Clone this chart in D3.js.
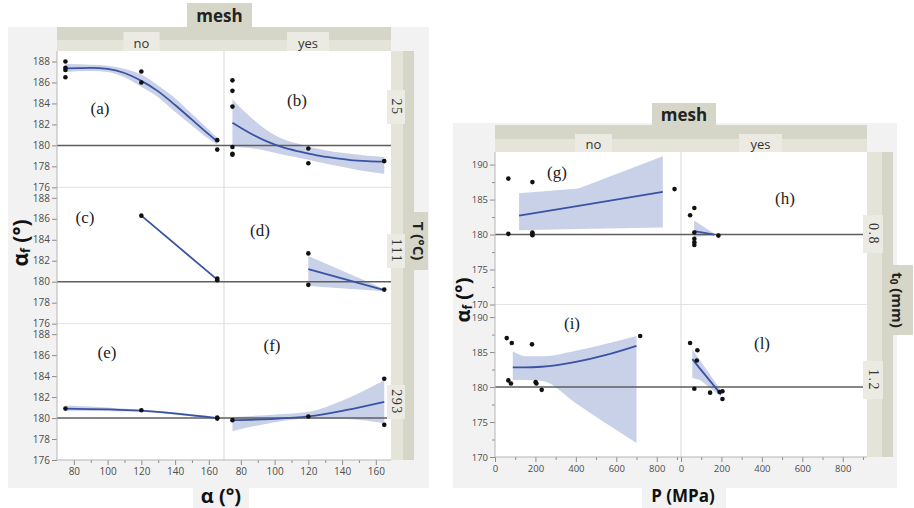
<!DOCTYPE html>
<html>
<head>
<meta charset="utf-8">
<script src="https://cdn.jsdelivr.net/npm/d3@7"></script>
<style>
  body { margin: 0; background: #fff; }
  svg { display: block; }
</style>
</head>
<body>
<div id="chart"></div>
<script>
// ---- categories and tick values ----
var MESH = ["no", "yes"];
var T_LEVELS = ["25", "111", "293"];
var T0_LEVELS = ["0.8", "1.2"];
var ALPHA_TICKS = [80, 100, 120, 140, 160];
var ALPHA_MINOR = [90, 110, 130, 150];
var AF_TICKS_L = [176, 178, 180, 182, 184, 186, 188];
var P_TICKS = [0, 200, 400, 600, 800];
var P_MINOR = [100, 300, 500, 700, 900];
var AF_TICKS_R = [170, 175, 180, 185, 190];
var AF_MINOR_R = [172.5, 177.5, 182.5, 187.5];
var TAGS_L = [["(a)", "(b)"], ["(c)", "(d)"], ["(e)", "(f)"]];
var TAGS_R = [["(g)", "(h)"], ["(i)", "(l)"]];

// ---- measured points: [x, alpha_f] ----
var PTS_A = [[75, 188.0], [75, 187.4], [75, 187.2], [75, 186.5], [120, 187.05], [120, 186.0], [165, 180.5], [165, 179.6]];
var PTS_B = [[75, 186.2], [75, 185.2], [75, 183.7], [75, 179.85], [75, 179.2], [75, 179.1], [120, 179.7], [120, 178.3], [165, 178.5]];
var PTS_C = [[120, 186.3], [165, 180.3], [165, 180.15]];
var PTS_D = [[120, 182.7], [120, 179.7], [165, 179.25]];
var PTS_E = [[75, 180.9], [120, 180.75], [165, 180.05], [165, 179.95]];
var PTS_F = [[75, 179.8], [120, 180.15], [165, 183.75], [165, 179.35]];
var PTS_G = [[66, 188.0], [66, 180.1], [185, 187.5], [185, 180.3], [185, 180.1], [185, 179.9], [888, 186.5]];
var PTS_H = [[45, 182.75], [66, 183.8], [66, 180.3], [66, 179.4], [66, 178.9], [66, 178.5], [185, 179.85]];
var PTS_I = [[58, 187.0], [66, 180.95], [83, 186.3], [79, 180.5], [183, 186.1], [201, 180.7], [205, 180.5], [231, 179.6], [718, 187.3]];
var PTS_L = [[45, 186.3], [81, 185.25], [78, 183.8], [66, 179.75], [144, 179.2], [191, 179.3], [205, 179.4], [205, 178.3]];

// ---- fitted curve with confidence band: [x, fit, lower, upper] ----
var FIT_A = [[75, 187.35, 187.0, 187.75], [90, 187.4, 187.1, 187.7], [100, 187.3, 187.0, 187.6], [110, 186.9, 186.5, 187.3],
             [120, 186.15, 185.6, 186.75], [130, 185.15, 184.6, 185.7], [140, 183.85, 183.2, 184.5], [150, 182.45, 181.9, 183.0],
             [160, 181.05, 180.6, 181.5], [165, 180.4, 180.05, 180.75]];
var FIT_B = [[75, 182.15, 179.9, 184.4], [85, 181.2, 179.75, 182.8], [95, 180.4, 179.5, 181.5], [105, 179.8, 179.1, 180.6],
             [115, 179.4, 178.8, 180.1], [125, 179.05, 178.45, 179.7], [135, 178.8, 178.1, 179.4], [145, 178.6, 177.8, 179.2],
             [155, 178.5, 177.5, 179.0], [165, 178.45, 177.3, 178.9]];
var FIT_C = [[120, 186.3, null, null], [165, 180.2, null, null]];
var FIT_D = [[120, 181.2, 179.6, 182.45], [165, 179.2, 179.1, 179.3]];
var FIT_E = [[75, 180.9, 180.7, 181.2], [120, 180.7, 180.6, 180.8], [142, 180.4, 180.3, 180.5], [165, 180.0, 179.9, 180.1]];
var FIT_F = [[75, 179.8, 178.75, 180.1], [97, 179.9, 179.5, 180.3], [120, 180.15, 179.95, 180.6], [142, 180.75, 179.9, 181.8], [165, 181.55, 179.5, 183.6]];
var FIT_G = [[119, 182.7, 180.6, 185.9], [413, 184.1, 180.8, 186.6], [830, 186.1, 181.0, 191.2]];
var FIT_H = [[65, 180.5, 179.7, 182.0], [165, 180.0, 179.85, 180.1]];
var FIT_I = [[88, 182.8, 181.0, 185.1], [150, 182.8, 181.0, 184.4], [230, 182.9, 180.9, 184.4], [400, 183.6, 177.7, 185.2],
             [550, 184.6, 174.8, 186.2], [700, 185.9, 172.0, 187.3]];
var FIT_L = [[56, 184.0, 181.3, 185.4], [95, 182.6, 181.0, 183.8], [198, 178.95, 178.6, 179.5]];

// ---- style ----
var BG = "#f2f2f2", DARK = "#d6d6c8", LIGHT = "#e4e4d9", BOX = "#ebebe3",
    LINE = "#3a52a4", FILL = "#c3cce6", REF = "#5e5e5e", GRID = "#e3e3e3",
    TICK = "#8c8c8c", TXT = "#4d4d4d", SANS = "'Open Sans', 'Noto Sans', sans-serif",
    SERIF = "'Liberation Serif', 'DejaVu Serif', serif";

var svg = d3.select("#chart").append("svg").attr("width", 914).attr("height", 508);

function rect(g, x, y, w, h, fill) {
  return g.append("rect").attr("x", x).attr("y", y).attr("width", w).attr("height", h).attr("fill", fill);
}

function facet(c) {
  var g = svg.append("g");
  rect(g, c.bg[0], c.bg[1], c.bg[2], c.bg[3], BG);
  var nc = c.cols.length, nr = c.rows.length;
  var pw = (c.x1 - c.x0) / nc, rh = (c.y1 - c.y0) / nr;
  rect(g, c.x0, c.y0, c.x1 - c.x0, c.y1 - c.y0, "#fff");

  // grid: row boundaries and column divider
  for (var r = 1; r < nr; r++) {
    g.append("line").attr("x1", c.x0).attr("x2", c.x1).attr("y1", c.y0 + r * rh).attr("y2", c.y0 + r * rh)
      .attr("stroke", GRID).attr("stroke-width", 1);
  }
  g.append("line").attr("x1", c.x0 + pw).attr("x2", c.x0 + pw).attr("y1", c.y0).attr("y2", c.y1)
    .attr("stroke", "#d9d9d9").attr("stroke-width", 1);

  var xs = c.cols.map(function (_, i) {
    return d3.scaleLinear().domain(c.xDom).range([c.x0 + i * pw, c.x0 + (i + 1) * pw]);
  });
  var ys = c.rows.map(function (_, i) {
    return d3.scaleLinear().domain(c.yDom).range([c.y0 + (i + 1) * rh, c.y0 + i * rh]);
  });

  // bands first
  c.panels.forEach(function (row, ri) {
    row.forEach(function (p, ci) {
      var x = xs[ci], y = ys[ri];
      var curve = p.smooth ? d3.curveMonotoneX : d3.curveLinear;
      var bandRows = p.fit.filter(function (d) { return d[2] != null; });
      if (bandRows.length) {
        var area = d3.area().x(function (d) { return x(d[0]); })
          .y0(function (d) { return y(d[2]); }).y1(function (d) { return y(d[3]); }).curve(curve);
        g.append("path").attr("d", area(bandRows)).attr("fill", FILL).attr("opacity", 0.9);
      }
    });
  });
  // reference line at 180 in each row
  ys.forEach(function (y) {
    g.append("line").attr("x1", c.x0).attr("x2", c.x1).attr("y1", y(180)).attr("y2", y(180))
      .attr("stroke", REF).attr("stroke-width", 1.5);
  });
  // fits, points, tags
  c.panels.forEach(function (row, ri) {
    row.forEach(function (p, ci) {
      var x = xs[ci], y = ys[ri];
      var curve = p.smooth ? d3.curveMonotoneX : d3.curveLinear;
      var line = d3.line().x(function (d) { return x(d[0]); }).y(function (d) { return y(d[1]); }).curve(curve);
      g.append("path").attr("d", line(p.fit)).attr("fill", "none").attr("stroke", LINE).attr("stroke-width", 1.8);
      g.selectAll(null).data(p.pts).enter().append("circle")
        .attr("cx", function (d) { return x(d[0]); }).attr("cy", function (d) { return y(d[1]); })
        .attr("r", 2.3).attr("fill", "#111");
      var tp = c.tagPos[ri][ci];
      g.append("text").attr("x", tp[0]).attr("y", tp[1]).attr("text-anchor", "middle")
        .attr("dominant-baseline", "central").attr("fill", "#222")
        .style("font-family", SERIF).style("font-size", "17px").text(c.tags[ri][ci]);
    });
  });

  // axes
  function styleAxis(a) {
    a.select(".domain").remove();
    a.selectAll(".tick line").attr("stroke", TICK);
    a.selectAll(".tick text").attr("fill", TXT).style("font-family", SANS).style("font-size", c.tickFont + "px");
  }
  ys.forEach(function (y) {
    styleAxis(g.append("g").attr("transform", "translate(" + c.x0 + ",0)")
      .call(d3.axisLeft(y).tickValues(c.yTicks).tickSize(5).tickPadding(2)));
    if (c.yMinor) {
      styleAxis(g.append("g").attr("transform", "translate(" + c.x0 + ",0)")
        .call(d3.axisLeft(y).tickValues(c.yMinor).tickSize(3).tickFormat("")));
    }
  });
  xs.forEach(function (x) {
    styleAxis(g.append("g").attr("transform", "translate(0," + c.y1 + ")")
      .call(d3.axisBottom(x).tickValues(c.xTicks).tickSize(5).tickPadding(3)));
    styleAxis(g.append("g").attr("transform", "translate(0," + c.y1 + ")")
      .call(d3.axisBottom(x).tickValues(c.xMinor).tickSize(3).tickFormat("")));
  });
  g.append("line").attr("x1", c.x0).attr("x2", c.x0).attr("y1", c.y0).attr("y2", c.y1).attr("stroke", "#b5b5b5");
  g.append("line").attr("x1", c.x0).attr("x2", c.x1).attr("y1", c.y1).attr("y2", c.y1).attr("stroke", "#b5b5b5");

  // top strip (mesh)
  rect(g, c.x0, c.top[0], c.x1 - c.x0, c.top[1] - c.top[0], DARK);
  rect(g, c.x0, c.top[1], c.x1 - c.x0, c.y0 - c.top[1], LIGHT);
  rect(g, c.meshTab[0], c.meshTab[1], c.meshTab[2], c.top[0] - c.meshTab[1] + 1, DARK);
  g.append("text").attr("x", c.meshTab[0] + c.meshTab[2] / 2).attr("y", c.meshTab[1] + c.meshTab[3])
    .attr("text-anchor", "middle").attr("fill", "#222").style("font-family", SANS)
    .style("font-size", "17px").style("font-weight", "bold").text("mesh");
  c.cols.forEach(function (lab, i) {
    var bx = c.colBox[i];
    rect(g, bx[0] - bx[1] / 2, c.colBoxY, bx[1], c.y0 - c.colBoxY, BOX);
    g.append("text").attr("x", bx[0]).attr("y", (c.colBoxY + c.y0) / 2 + 1).attr("text-anchor", "middle")
      .attr("dominant-baseline", "central").attr("fill", "#333").style("font-family", SANS)
      .style("font-size", "13px").text(lab);
  });

  // right strip (row factor)
  rect(g, c.x1, c.y0, c.strip[0] - c.x1, c.y1 - c.y0, LIGHT);
  rect(g, c.strip[0], c.y0, c.strip[1] - c.strip[0], c.y1 - c.y0, DARK);
  rect(g, c.strip[0], c.rowTab[0], c.rowTab[2], c.rowTab[1] - c.rowTab[0], DARK);
  var rt = g.append("text").attr("transform", "translate(" + c.rowTab[3] + "," + ((c.rowTab[0] + c.rowTab[1]) / 2) + ") rotate(90)")
    .attr("text-anchor", "middle").attr("dominant-baseline", "central").attr("fill", "#222")
    .style("font-family", SANS).style("font-size", "15px").style("font-weight", "bold");
  c.rowTitle(rt);
  c.rows.forEach(function (lab, i) {
    var cy = c.rowBoxY[i], bx = c.rowBox;
    rect(g, bx[0], cy - bx[2] / 2, bx[1] - bx[0], bx[2], BOX);
    g.append("text").attr("transform", "translate(" + ((bx[0] + bx[1]) / 2) + "," + cy + ") rotate(90)")
      .attr("text-anchor", "middle").attr("dominant-baseline", "central").attr("fill", "#333")
      .style("font-family", SERIF).style("font-size", "14px").style("letter-spacing", "1.5px").text(lab);
  });

  // axis titles
  rect(g, c.xlab.box[0], c.xlab.box[1], c.xlab.box[2], c.xlab.box[3], BG);
  g.append("text").attr("x", c.xlab.x).attr("y", c.xlab.y).attr("text-anchor", "middle")
    .attr("dominant-baseline", "central").attr("fill", "#111").style("font-family", SANS)
    .style("font-size", c.xlab.size + "px").style("font-weight", "bold").text(c.xlab.text);
  var yl = g.append("text").attr("transform", "translate(" + c.ylab.x + "," + c.ylab.y + ") rotate(-90)")
    .attr("text-anchor", "middle").attr("dominant-baseline", "central").attr("fill", "#111")
    .style("font-family", SANS).style("font-size", c.ylab.size + "px").style("font-weight", "bold");
  yl.append("tspan").text("α");
  yl.append("tspan").attr("dy", 5).style("font-size", (c.ylab.size * 0.6) + "px").text("f");
  yl.append("tspan").attr("dy", -5).text(" (°)");
}

facet({
  cols: MESH, rows: T_LEVELS, xDom: [70, 169], yDom: [176, 189],
  xTicks: ALPHA_TICKS, xMinor: ALPHA_MINOR, yTicks: AF_TICKS_L, yMinor: null, tickFont: 10,
  panels: [[{ pts: PTS_A, fit: FIT_A, smooth: true }, { pts: PTS_B, fit: FIT_B, smooth: true }],
           [{ pts: PTS_C, fit: FIT_C }, { pts: PTS_D, fit: FIT_D }],
           [{ pts: PTS_E, fit: FIT_E, smooth: true }, { pts: PTS_F, fit: FIT_F, smooth: true }]],
  tags: TAGS_L, tagPos: [[[100, 108], [297, 100]], [[85, 217], [260, 230]], [[107, 352], [272, 345]]],
  bg: [8, 27, 421, 461], x0: 57, x1: 391, y0: 51, y1: 460,
  top: [27, 40], meshTab: [187, 3, 65, 19], colBoxY: 32, colBox: [[141.5, 36], [308, 42]],
  strip: [403, 414], rowTab: [212, 270, 25, 419], rowBox: [387, 405, 34], rowBoxY: [107, 251, 402],
  rowTitle: function (t) { t.text("T (°C)"); },
  xlab: { text: "α (°)", x: 221, y: 495, size: 20, box: [193, 486, 56, 22] },
  ylab: { x: 20, y: 243, size: 21 }
});

facet({
  cols: MESH, rows: T0_LEVELS, xDom: [0, 920], yDom: [170, 191.8],
  xTicks: P_TICKS, xMinor: P_MINOR, yTicks: AF_TICKS_R, yMinor: AF_MINOR_R, tickFont: 9.5,
  panels: [[{ pts: PTS_G, fit: FIT_G }, { pts: PTS_H, fit: FIT_H }],
           [{ pts: PTS_I, fit: FIT_I, smooth: true }, { pts: PTS_L, fit: FIT_L }]],
  tags: TAGS_R, tagPos: [[[557, 172], [785, 198]], [[572, 323], [762, 343]]],
  bg: [453, 123, 444, 365], x0: 495, x1: 867, y0: 152, y1: 457,
  top: [125, 139], meshTab: [652, 103, 64, 18], colBoxY: 134, colBox: [[593.5, 37], [760.5, 43]],
  strip: [882, 893], rowTab: [265, 335, 31, 898], rowBox: [863, 883, 38], rowBoxY: [234, 380],
  rowTitle: function (t) {
    t.append("tspan").text("t");
    t.append("tspan").attr("dy", 4).style("font-size", "10px").text("0");
    t.append("tspan").attr("dy", -4).text(" (mm)");
  },
  xlab: { text: "P (MPa)", x: 683, y: 495, size: 17, box: [642, 486, 84, 22] },
  ylab: { x: 462, y: 300, size: 20 }
});
</script>
</body>
</html>
